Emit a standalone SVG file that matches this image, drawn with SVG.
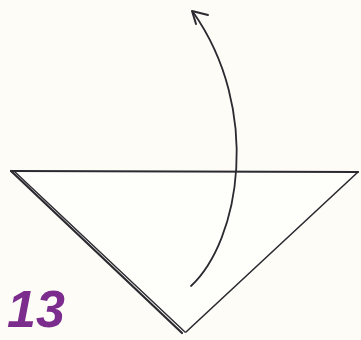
<svg xmlns="http://www.w3.org/2000/svg" width="361" height="340" viewBox="0 0 361 340">
<style>
.ln{fill:none;stroke:#2a2a30;stroke-linecap:round;stroke-linejoin:round}
</style>
<rect width="361" height="340" fill="#fdfcf7"/>
<g id="paper">
<polygon points="11,171 358,172 185,333" fill="#fefefb" stroke="none"/>
<line class="ln" x1="11" y1="171" x2="358" y2="172" stroke-width="2.2"/>
<line class="ln" x1="358" y1="172" x2="186" y2="332" stroke-width="1.6"/>
<line class="ln" x1="11" y1="171" x2="182" y2="333" stroke-width="2.2"/>
<line class="ln" x1="15" y1="172" x2="185" y2="332" stroke-width="1.4"/>
</g>
<g id="connectors">
<path class="ln" d="M191,286 C240,240 262,110 193,12" stroke-width="1.8"/>
<path class="ln" d="M196,24 L192,11 L208,15" stroke-width="2"/>
</g>
<text x="7" y="327" font-family="Liberation Sans, sans-serif" font-style="italic" font-weight="bold" font-size="52" fill="#7b2c8c">13</text>
</svg>
